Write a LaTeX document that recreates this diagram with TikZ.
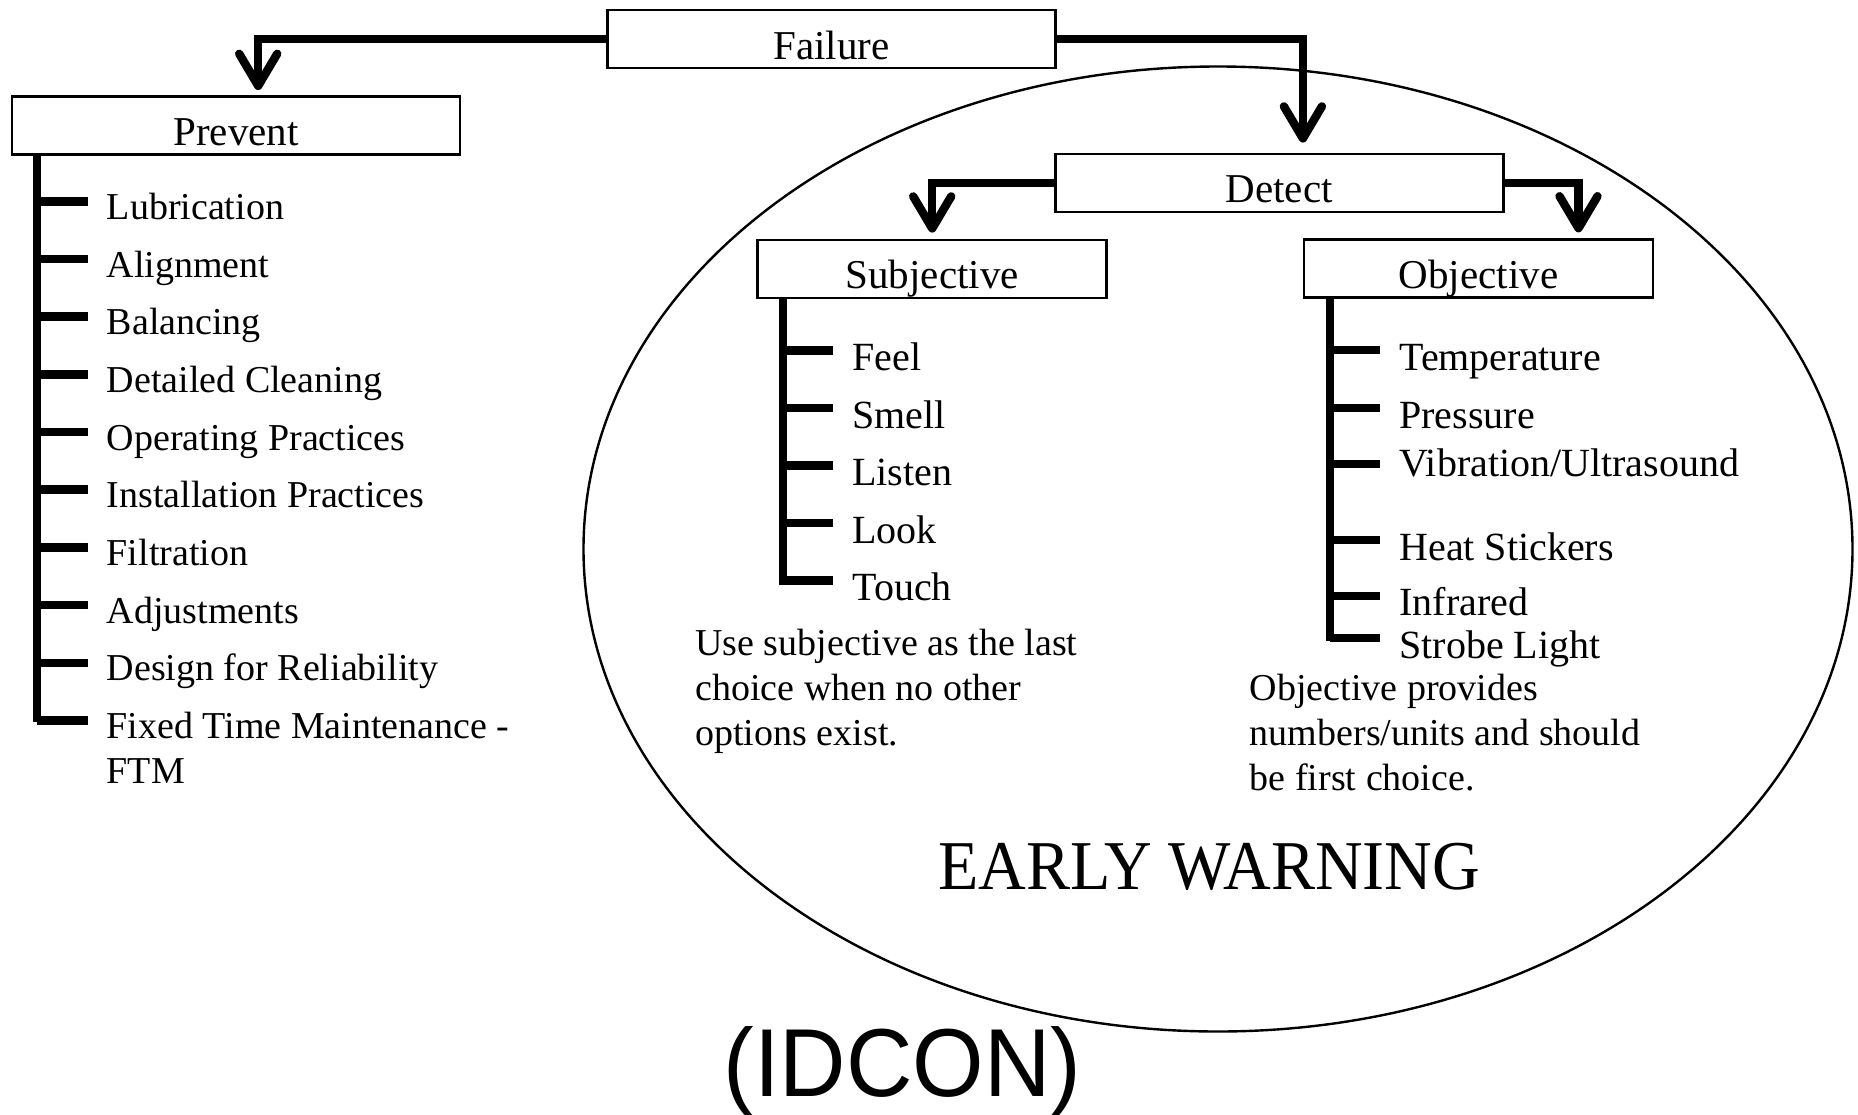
\documentclass[tikz,border=0pt]{standalone}
\usepackage{fontspec}
\setmainfont{Liberation Serif}
\newfontfamily\idconfont{Liberation Sans}
\usetikzlibrary{arrows.meta}
\begin{document}
\begin{tikzpicture}[x=0.5pt,y=-0.5pt,
  box/.style={draw, line width=1.3pt, inner sep=0pt, minimum height=29pt,
    text height=24.5pt, text depth=4.5pt, font=\fontsize{20.5}{24}\selectfont},
  bigbox/.style={box, minimum width=224pt},
  smallbox/.style={box, minimum width=174.5pt},
  link/.style={line width=4.2pt},
  arr/.style={link, -{Straight Barb[length=16pt,width=19pt,round]}},
  pitem/.style={anchor=base west, inner sep=0pt, text height=22pt, text depth=4pt,
    font=\fontsize{19}{22.5}\selectfont},
  ditem/.style={anchor=base west, inner sep=0pt, text height=24pt, text depth=4pt,
    font=\fontsize{20}{24}\selectfont},
  note/.style={anchor=base west, align=left, inner sep=0pt,
    font=\fontsize{19}{22.5}\selectfont}
]
\useasboundingbox (0,0) rectangle (1858,1114);

% ellipse
\draw[line width=1.2pt] (1218,549) ellipse [x radius=317.25pt, y radius=241.25pt];

% boxes
\node[bigbox] (fail) at (831.5,39) {Failure};
\node[bigbox] (prev) at (236,125.3) {Prevent};
\node[bigbox] (det) at (1279.2,182.9) {Detect};
\node[smallbox] (subj) at (932.2,268.9) {Subjective};
\node[smallbox] (obj) at (1478.5,268.7) {Objective};

% arrows
\draw[arr, shorten >=2.5pt] (fail.west) -| ([xshift=123.75pt]prev.north west);
\draw[arr, shorten >=5pt] (fail.east) -| ([xshift=124.5pt]det.north west);
\draw[arr, shorten >=3pt] (det.west) -| (subj.north);
\draw[arr, shorten >=3pt] (det.east) -| ([xshift=137.9pt]obj.north west);

% Prevent list
\node[pitem] (p1) at (106.4,219.3) {Lubrication};
\node[pitem] (p2) at (106.4,277.0) {Alignment};
\node[pitem] (p3) at (106.4,334.6) {Balancing};
\node[pitem] (p4) at (106.4,392.3) {Detailed Cleaning};
\node[pitem] (p5) at (106.4,450.0) {Operating Practices};
\node[pitem] (p6) at (106.4,507.6) {Installation Practices};
\node[pitem] (p7) at (106.4,565.3) {Filtration};
\node[pitem] (p8) at (106.4,623.0) {Adjustments};
\node[pitem] (p9) at (106.4,680.7) {Design for Reliability};
\node[note] (p10) at (106.4,783.3) {Fixed Time Maintenance -\\FTM};
\coordinate (pt) at (37,0);
\coordinate (pend) at (37,722.4);
\coordinate (p10t) at ([shift={(-9.4pt,31.5pt)}]p10.base west);
\draw[link] (prev.south -| pend) -- (pend);
\foreach \n in {p1,p2,p3,p4,p5,p6,p7,p8,p9}
  \draw[link] (pt |- \n.west) -- ([xshift=-9.4pt]\n.west);
\draw[link] (pt |- p10t) -- (p10t);

% Subjective list
\node[ditem] (s1) at (852,370.6) {Feel};
\node[ditem] (s2) at (852,428.1) {Smell};
\node[ditem] (s3) at (852,485.6) {Listen};
\node[ditem] (s4) at (852,543.1) {Look};
\node[ditem] (s5) at (852,600.6) {Touch};
\coordinate (st) at (783,0);
\coordinate (send) at (783,584.8);
\draw[link] (subj.south -| send) -- (send);
\foreach \n in {s1,s2,s3,s4,s5}
  \draw[link] (st |- \n.west) -- ([xshift=-9.4pt]\n.west);
\node[note] (snote) at (695,745.7) {Use subjective as the last\\choice when no other\\options exist.};

% Objective list
\node[ditem] (o1) at (1399,370) {Temperature};
\node[ditem] (o2) at (1399,428) {Pressure};
\node[ditem, text height=16pt] (o3) at (1399,476) {Vibration/Ultrasound};
\node[ditem] (o4) at (1399,560) {Heat Stickers};
\node[ditem] (o5) at (1399,615.7) {Infrared};
\node[ditem] (o6) at (1399,658) {Strobe Light};
\coordinate (ot) at (1330,0);
\coordinate (oend) at (1330,640.8);
\draw[link] (obj.south -| oend) -- (oend);
\foreach \n in {o1,o2,o3,o4,o5,o6}
  \draw[link] (ot |- \n.west) -- ([xshift=-9.4pt]\n.west);
\node[note] (onote) at (1249.5,790) {Objective provides\\numbers/units and should\\be first choice.};

% titles
\node[anchor=base, inner sep=0pt, font=\fontsize{33}{40}\selectfont] (ew) at (1209.3,889.3) {\scalebox{1}[1.06]{EARLY WARNING}};
\node[anchor=base, inner sep=0pt, font=\idconfont\fontsize{46}{55}\selectfont] (idcon) at (902.4,1096.7) {\scalebox{1}[1.05]{(IDCON)}};
\end{tikzpicture}
\end{document}
